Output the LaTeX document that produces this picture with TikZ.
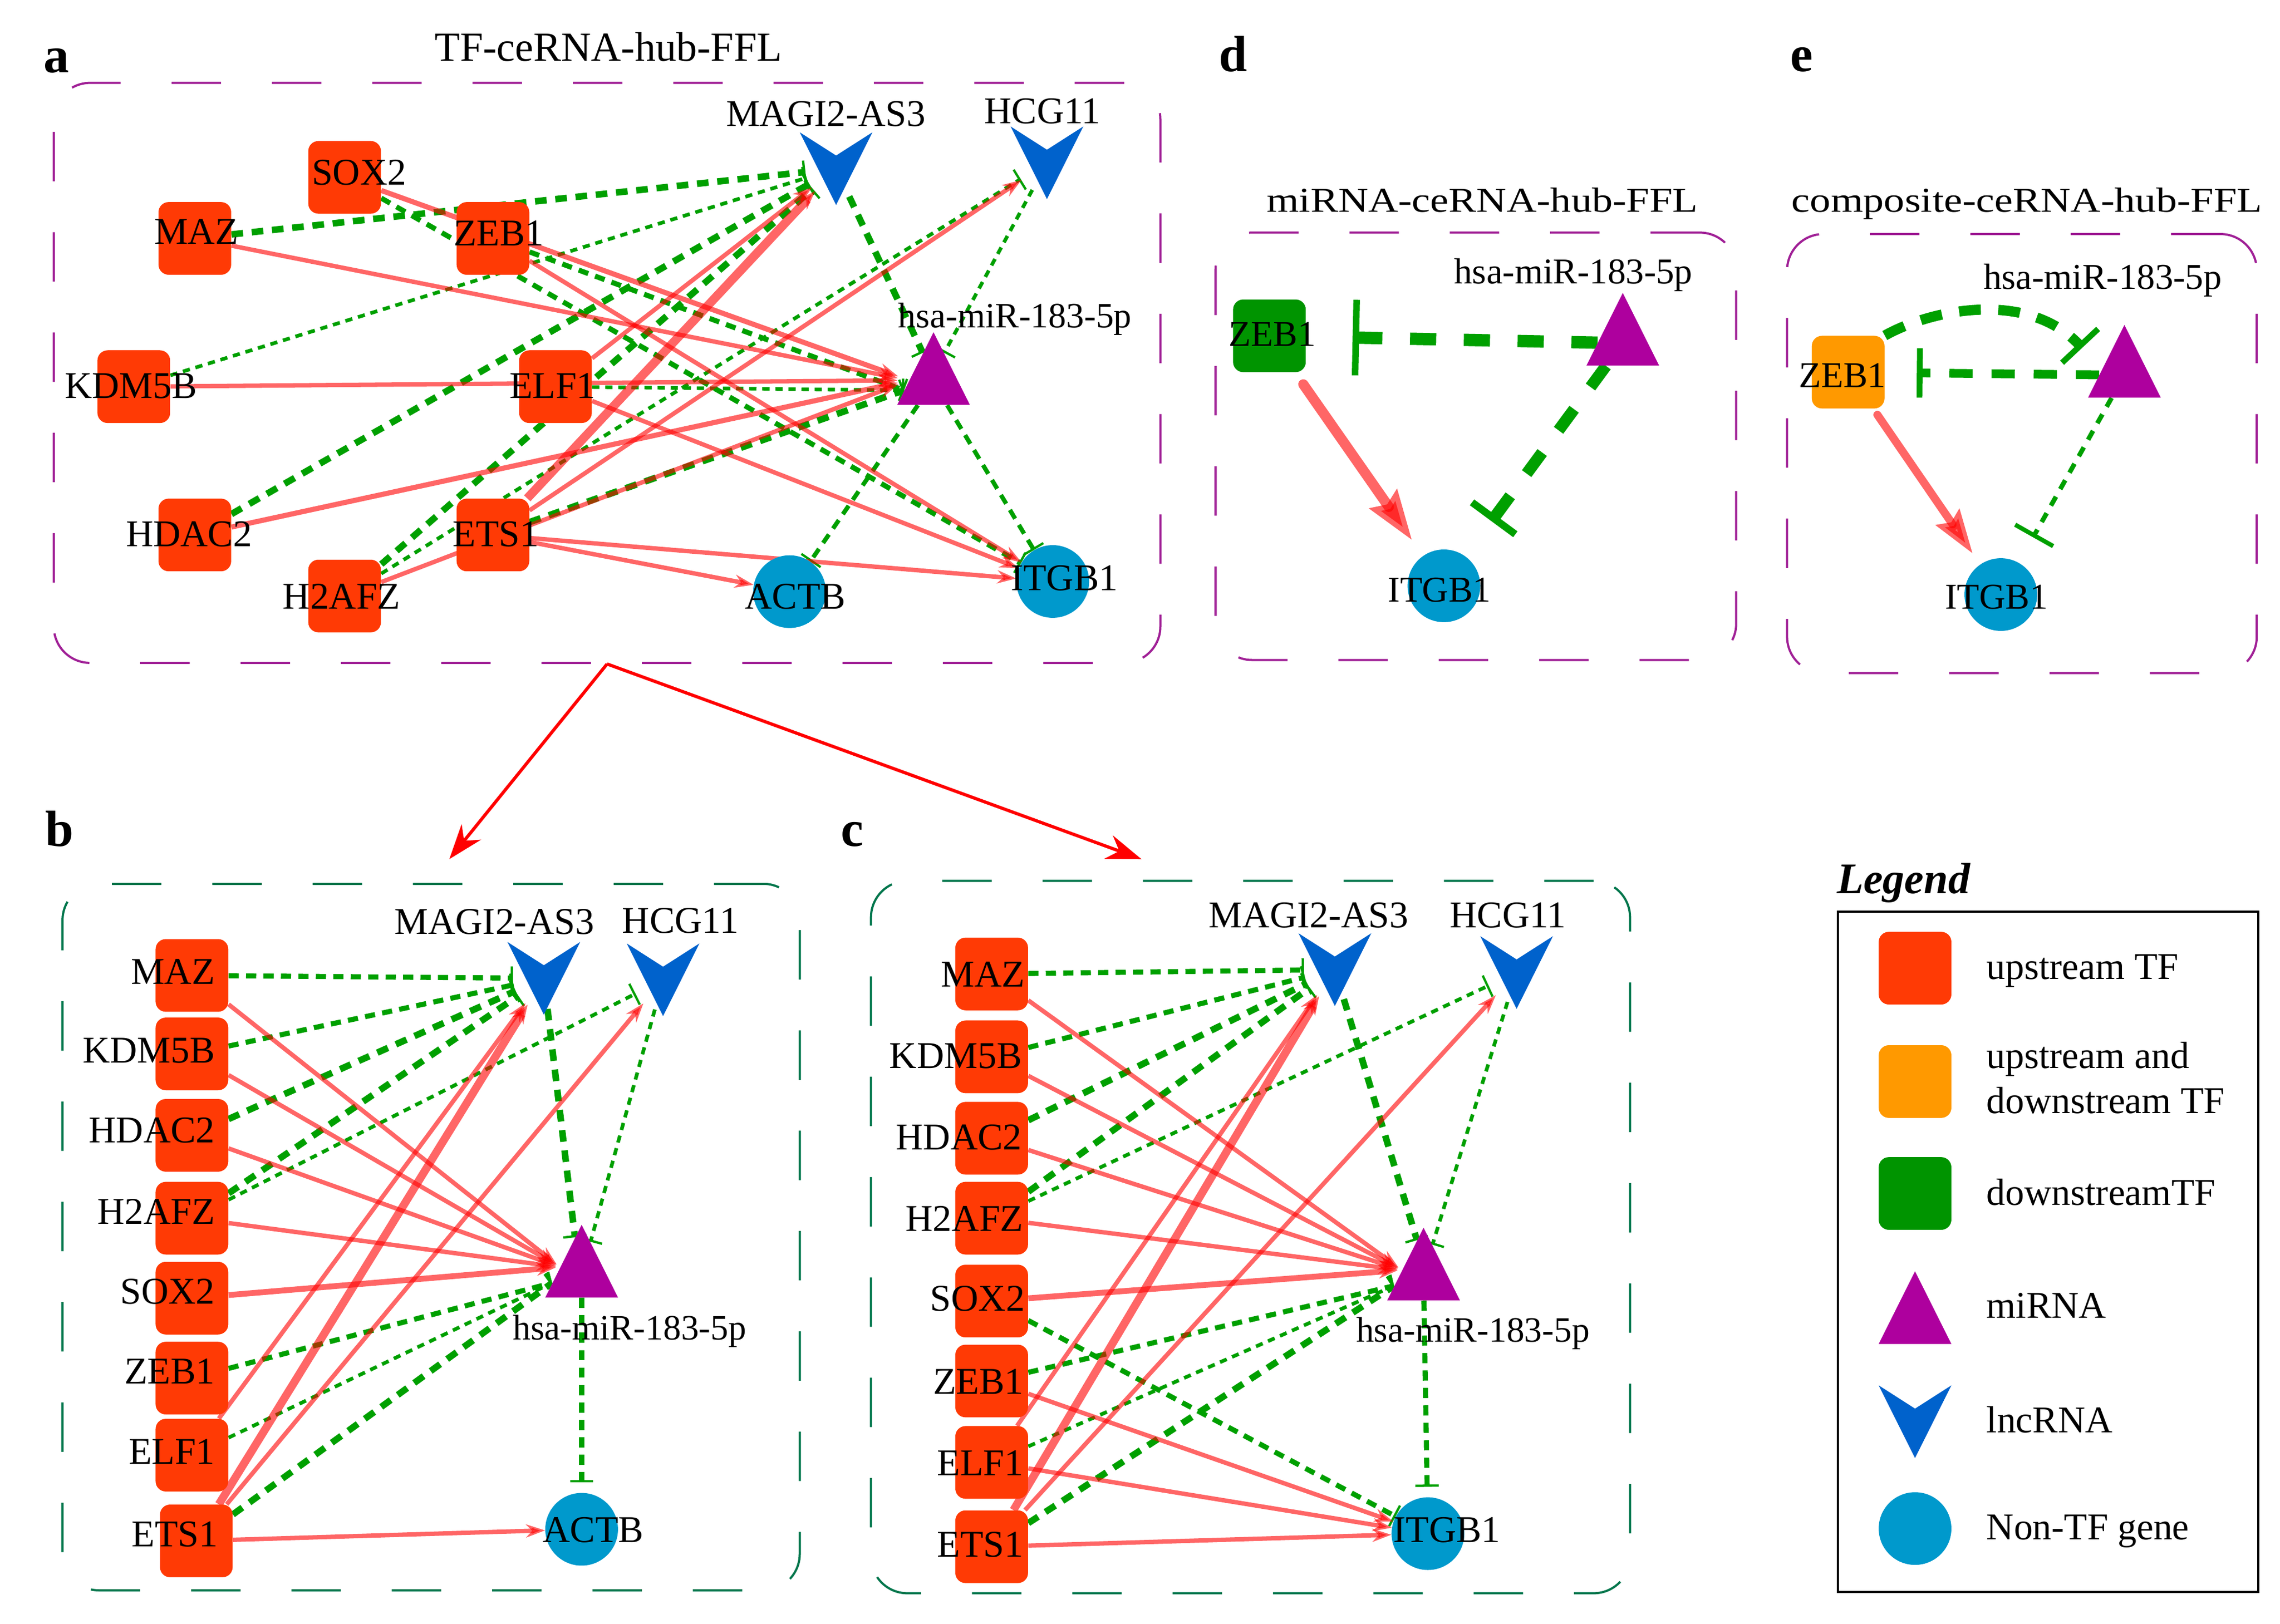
\documentclass[tikz,border=0pt]{standalone}
\usepackage{fontspec}
\usepackage{graphicx}
\setmainfont{Liberation Serif}
\usetikzlibrary{arrows.meta,shapes.geometric,calc}
\pgfdeclarelayer{edges}
\pgfsetlayers{edges,main}
\definecolor{tfred}{RGB}{255,58,5}
\definecolor{tforange}{RGB}{255,153,0}
\definecolor{tfgreen}{RGB}{0,148,0}
\definecolor{mirpurple}{RGB}{174,0,158}
\definecolor{lncblue}{RGB}{0,98,204}
\definecolor{geneblue}{RGB}{0,153,204}
\definecolor{edgegreen}{RGB}{0,160,0}
\definecolor{boxpurple}{RGB}{160,32,150}
\definecolor{boxgreen}{RGB}{0,118,76}
\newcommand\mylabfont{\fontsize{26}{30}\selectfont}
\newcommand\mymirfont{\fontsize{24.5}{30}\selectfont}
\newcommand\mydfont{\fontsize{25}{30}\selectfont}
\newcommand\mytitlefont{\fontsize{28.5}{32}\selectfont}
\newcommand\mydtitlefont{\fontsize{24}{28}\selectfont}
\newcommand\mypanelfont{\fontsize{35}{40}\selectfont\bfseries}
\newcommand\mylegfont{\fontsize{30}{34}\selectfont\bfseries\itshape}
\newcommand\lncV[1]{\fill[lncblue] ($(#1)+(-25,-25)$) -- ($(#1)+(0,-9)$) -- ($(#1)+(25,-25)$) -- ($(#1)+(0,25)$) -- cycle;}
\tikzset{
  tf/.style={rectangle, rounded corners=7pt, minimum width=50pt, minimum height=50pt, inner sep=0pt, fill=tfred},
  mir/.style={isosceles triangle, shape border rotate=90, isosceles triangle stretches, minimum width=50pt, minimum height=50pt, inner sep=0pt, fill=mirpurple, anchor=apex},
  lnc/.style={circle, minimum size=42pt, inner sep=0pt},
  gene/.style={circle, minimum size=50pt, inner sep=0pt, fill=geneblue},
  lab/.style={font=\mylabfont, inner sep=0pt, anchor=base},
  labE/.style={lab, anchor=base east},
  mlab/.style={font=\mymirfont, inner sep=0pt, anchor=base},
  dlab/.style={font=\mydfont, inner sep=0pt, anchor=base},
  leglab/.style={font=\mylabfont, inner sep=0pt, anchor=base west},
  panel/.style={font=\mypanelfont, inner sep=0pt, anchor=base west},
  ptitle/.style={font=\mytitlefont, inner sep=0pt, anchor=base},
  dtitle/.style={font=\mydtitlefont, inner sep=0pt, anchor=base},
  pbox/.style={draw=boxpurple, line width=1.5pt, dash pattern=on 34pt off 35pt, rounded corners=25pt, inner sep=0pt},
  gbox/.style={pbox, draw=boxgreen},
  redE/.style={draw=red, opacity=0.6, line width=3pt, -{Stealth[length=13pt,width=9pt]}},
  gE/.style={draw=edgegreen, -{Bar[width=16pt,line width=1.6pt]}},
  gthick/.style={gE, line width=4.5pt, dash pattern=on 8pt off 6pt},
  gmed/.style={gE, line width=3.5pt, dash pattern=on 7pt off 5pt},
  gthin/.style={gE, line width=2.5pt, dash pattern=on 5pt off 4pt},
  interarrow/.style={draw=red, line width=2.2pt, -{Stealth[length=24pt,width=17pt]}},
}
\begin{document}
\begin{tikzpicture}[x=1pt,y=-1pt]
\useasboundingbox (0,0) rectangle (1568,1116.8);

% ---------- panel boxes ----------
\node[pbox, minimum width=761pt, minimum height=399pt] (aBox) at (417.5,256.5) {};
\node[gbox, minimum width=507pt, minimum height=486pt] (bBox) at (296.5,851) {};
\node[gbox, minimum width=522pt, minimum height=490pt] (cBox) at (860,851) {};
\node[pbox, minimum width=358pt, minimum height=294pt] (dBox) at (1015,307) {};
\node[pbox, minimum width=323pt, minimum height=302pt] (eBox) at (1390.5,312) {};
\node[draw=black, line width=1.5pt, minimum width=289pt, minimum height=468pt, inner sep=0pt] (legBox) at (1408.5,861) {};

% ---------- panel letters and titles ----------
\node[panel] (pa) at (30,50) {a};
\node[panel] (pb) at (31,582) {b};
\node[panel] (pc) at (578,582) {c};
\node[panel] (pd) at (838,49) {d};
\node[panel] (pe) at (1231,49) {e};
\node[ptitle] (aTitle) at (418.5,42) {TF-ceRNA-hub-FFL};
\node[dtitle] (dTitle) at (1019.5,146) {\scalebox{1.19}[1]{miRNA-ceRNA-hub-FFL}};
\node[dtitle] (eTitle) at (1394,146) {\scalebox{1.19}[1]{composite-ceRNA-hub-FFL}};

% ---------- panel a nodes ----------
\node[tf] (aSOX2) at (237,122) {};
\node[tf] (aMAZ) at (134,164) {};
\node[tf] (aZEB1) at (339,164) {};
\node[tf] (aKDM5B) at (92,266) {};
\node[tf] (aELF1) at (382,266) {};
\node[tf] (aHDAC2) at (134,368) {};
\node[tf] (aETS1) at (339,368) {};
\node[tf] (aH2AFZ) at (237,410) {};
\node[lnc] (aMAGI) at (575,116) {}; \lncV{aMAGI}
\node[lnc] (aHCG) at (720,112) {}; \lncV{aHCG}
\node[mir] (aMIR) at (642,228) {};
\node[gene] (aACTB) at (543,407) {};
\node[gene] (aITGB) at (724,400) {};
\node[lab] (aSOX2t) at (247,127) {SOX2};
\node[lab] (aMAZt) at (135,168) {MAZ};
\node[lab] (aZEB1t) at (343,169) {ZEB1};
\node[lab] (aKDM5Bt) at (90,274) {KDM5B};
\node[lab] (aELF1t) at (380,274) {ELF1};
\node[lab] (aHDAC2t) at (130,376) {HDAC2};
\node[lab] (aETS1t) at (341,376) {ETS1};
\node[lab] (aH2AFZt) at (235,419) {H2AFZ};
\node[lab] (aMAGIt) at (568,87) {MAGI2-AS3};
\node[lab] (aHCGt) at (717,85) {HCG11};
\node[mlab] (aMIRt) at (698,225.5) {hsa-miR-183-5p};
\node[lab] (aACTBt) at (547,419) {ACTB};
\node[lab] (aITGBt) at (732,406) {ITGB1};

% ---------- panel b nodes ----------
\node[tf] (bMAZ) at (132,671) {};
\node[tf] (bKDM5B) at (132,725) {};
\node[tf] (bHDAC2) at (132,781) {};
\node[tf] (bH2AFZ) at (132,838) {};
\node[tf] (bSOX2) at (132,893) {};
\node[tf] (bZEB1) at (132,948) {};
\node[tf] (bELF1) at (132,1001) {};
\node[tf] (bETS1) at (135,1060) {};
\node[lnc] (bMAGI) at (374,673) {}; \lncV{bMAGI}
\node[lnc] (bHCG) at (456,674) {}; \lncV{bHCG}
\node[mir] (bMIR) at (400,842) {};
\node[gene] (bACTB) at (400,1052) {};
\node[labE] (bMAZt) at (148,677) {MAZ};
\node[labE] (bKDM5Bt) at (148,731) {KDM5B};
\node[labE] (bHDAC2t) at (148,786) {HDAC2};
\node[labE] (bH2AFZt) at (148,842) {H2AFZ};
\node[labE] (bSOX2t) at (148,897) {SOX2};
\node[labE] (bZEB1t) at (148,952) {ZEB1};
\node[labE] (bELF1t) at (148,1007) {ELF1};
\node[labE] (bETS1t) at (150,1064) {ETS1};
\node[lab] (bMAGIt) at (340,642.5) {MAGI2-AS3};
\node[lab] (bHCGt) at (468,642) {HCG11};
\node[mlab] (bMIRt) at (433,921.5) {hsa-miR-183-5p};
\node[lab] (bACTBt) at (408,1061) {ACTB};

% ---------- panel c nodes ----------
\node[tf] (cMAZ) at (682,670) {};
\node[tf] (cKDM5B) at (682,727) {};
\node[tf] (cHDAC2) at (682,783) {};
\node[tf] (cH2AFZ) at (682,838) {};
\node[tf] (cSOX2) at (682,895) {};
\node[tf] (cZEB1) at (682,950) {};
\node[tf] (cELF1) at (682,1006) {};
\node[tf] (cETS1) at (682,1064) {};
\node[lnc] (cMAGI) at (918,667) {}; \lncV{cMAGI}
\node[lnc] (cHCG) at (1043,669) {}; \lncV{cHCG}
\node[mir] (cMIR) at (979,844) {};
\node[gene] (cITGB) at (982,1055) {};
\node[labE] (cMAZt) at (705,679) {MAZ};
\node[labE] (cKDM5Bt) at (703,735) {KDM5B};
\node[labE] (cHDAC2t) at (703,791) {HDAC2};
\node[labE] (cH2AFZt) at (704,847) {H2AFZ};
\node[labE] (cSOX2t) at (705,902) {SOX2};
\node[labE] (cZEB1t) at (704,959) {ZEB1};
\node[labE] (cELF1t) at (704,1015) {ELF1};
\node[labE] (cETS1t) at (704,1071) {ETS1};
\node[lab] (cMAGIt) at (900,638) {MAGI2-AS3};
\node[lab] (cHCGt) at (1037,638) {HCG11};
\node[mlab] (cMIRt) at (1013,923) {hsa-miR-183-5p};
\node[lab] (cITGBt) at (995,1061) {ITGB1};

% ---------- panel d nodes ----------
\node[tf, fill=tfgreen] (dZEB1) at (873,231) {};
\node[mir] (dMIR) at (1116,201) {};
\node[gene] (dITGB) at (993,403) {};
\node[dlab] (dZEB1t) at (875,238) {ZEB1};
\node[dlab] (dMIRt) at (1082,195) {hsa-miR-183-5p};
\node[dlab] (dITGBt) at (990,414) {ITGB1};

% ---------- panel e nodes ----------
\node[tf, fill=tforange] (eZEB1) at (1271,256) {};
\node[mir] (eMIR) at (1461,223) {};
\node[gene] (eITGB) at (1376,409) {};
\node[dlab] (eZEB1t) at (1267,266.5) {ZEB1};
\node[dlab] (eMIRt) at (1446,199) {hsa-miR-183-5p};
\node[dlab] (eITGBt) at (1373,419) {ITGB1};

% ---------- legend ----------
\node[font=\mylegfont, inner sep=0pt, anchor=base west] (legT) at (1263,614.5) {Legend};
\node[tf] (lgTF) at (1317,666) {};
\node[tf, fill=tforange] (lgUD) at (1317,744) {};
\node[tf, fill=tfgreen] (lgDN) at (1317,821) {};
\node[mir] (lgMIR) at (1317,874) {};
\node[lnc] (lgLNC) at (1317,978) {}; \lncV{lgLNC}
\node[gene] (lgGENE) at (1317,1051.5) {};
\node[leglab] (lgTFt) at (1366,673.5) {upstream TF};
\node[leglab] (lgUDt1) at (1366,735) {upstream and};
\node[leglab] (lgUDt2) at (1366,766) {downstream TF};
\node[leglab] (lgDNt) at (1366,829) {downstreamTF};
\node[leglab] (lgMIRt) at (1366,906.5) {miRNA};
\node[leglab] (lgLNCt) at (1366,985.5) {lncRNA};
\node[leglab] (lgGENEt) at (1366,1059) {Non-TF gene};

\coordinate (bTip) at (309,591);
\coordinate (cTip) at (785,591);

% ---------- edges ----------
\begin{pgfonlayer}{edges}
% inter-panel arrows
\draw[interarrow] (aBox.south) -- (bTip);
\draw[interarrow] (aBox.south) -- (cTip);

% panel a green
\draw[gthick] (aMAZ) -- (aMAGI);
\draw[gthin] (aKDM5B) -- (aMAGI);
\draw[gthick] (aHDAC2) -- (aMAGI);
\draw[gthick] (aH2AFZ) -- (aMAGI);
\draw[gthin] (aH2AFZ) -- (aHCG);
\draw[gmed] (aSOX2) -- (aITGB);
\draw[gmed] (aZEB1) -- (aMIR.195);
\draw[gthin] (aELF1) -- (aMIR.195);
\draw[gthick] (aETS1) -- (aMIR.195);
\draw[gthick] (aMAGI) -- (aMIR.110);
\draw[gthin] (aHCG) -- (aMIR.70);
\draw[gmed, line width=3pt] (aMIR) -- (aACTB);
\draw[gmed, line width=3pt] (aMIR) -- (aITGB);
% panel a red
\draw[redE, line width=3.5pt, shorten >=8pt] (aSOX2) -- (aMIR.175);
\draw[redE, shorten >=8pt] (aMAZ) -- (aMIR.175);
\draw[redE, shorten >=8pt] (aKDM5B) -- (aMIR.175);
\draw[redE, line width=3.5pt, shorten >=8pt] (aHDAC2) -- (aMIR.175);
\draw[redE, shorten >=8pt] (aH2AFZ) -- (aMIR.175);
\draw[redE] (aELF1) -- (aMAGI);
\draw[redE, line width=6pt] (aETS1) -- (aMAGI);
\draw[redE] (aETS1) -- (aHCG);
\draw[redE] (aETS1) -- (aACTB);
\draw[redE] (aETS1) -- (aITGB);
\draw[redE] (aZEB1) -- (aITGB);
\draw[redE] (aELF1) -- (aITGB);

% panel b green
\draw[gmed] (bMAZ) -- (bMAGI);
\draw[gmed] (bKDM5B) -- (bMAGI);
\draw[gthick] (bHDAC2) -- (bMAGI);
\draw[gthick] (bH2AFZ) -- (bMAGI);
\draw[gthin] (bH2AFZ) -- (bHCG);
\draw[gmed] (bZEB1) -- (bMIR.195);
\draw[gthin] (bELF1) -- (bMIR.195);
\draw[gthick] (bETS1) -- (bMIR.195);
\draw[gthick] (bMAGI) -- (bMIR.100);
\draw[gthin] (bHCG) -- (bMIR.75);
\draw[gmed, shorten >=7pt] (bMIR) -- (bACTB);
% panel b red
\draw[redE, shorten >=3pt] (bMAZ) -- (bMIR.160);
\draw[redE, shorten >=3pt] (bKDM5B) -- (bMIR.160);
\draw[redE, shorten >=3pt] (bHDAC2) -- (bMIR.160);
\draw[redE, shorten >=3pt] (bH2AFZ) -- (bMIR.160);
\draw[redE, line width=4pt, shorten >=3pt] (bSOX2) -- (bMIR.160);
\draw[redE] (bELF1) -- (bMAGI);
\draw[redE, line width=5.5pt] (bETS1) -- (bMAGI);
\draw[redE] (bETS1) -- (bHCG);
\draw[redE] (bETS1) -- (bACTB);

% panel c green
\draw[gmed] (cMAZ) -- (cMAGI);
\draw[gmed] (cKDM5B) -- (cMAGI);
\draw[gthick] (cHDAC2) -- (cMAGI);
\draw[gthick] (cH2AFZ) -- (cMAGI);
\draw[gthin] (cH2AFZ) -- (cHCG);
\draw[gmed] (cSOX2) -- (cITGB);
\draw[gmed] (cZEB1) -- (cMIR.195);
\draw[gthin] (cELF1) -- (cMIR.195);
\draw[gthick] (cETS1) -- (cMIR.195);
\draw[gthick] (cMAGI) -- (cMIR.100);
\draw[gthin] (cHCG) -- (cMIR.75);
\draw[gmed, shorten >=7pt] (cMIR) -- (cITGB);
% panel c red
\draw[redE, shorten >=3pt] (cMAZ) -- (cMIR.160);
\draw[redE, shorten >=3pt] (cKDM5B) -- (cMIR.160);
\draw[redE, shorten >=3pt] (cHDAC2) -- (cMIR.160);
\draw[redE, shorten >=3pt] (cH2AFZ) -- (cMIR.160);
\draw[redE, line width=4pt, shorten >=3pt] (cSOX2) -- (cMIR.160);
\draw[redE] (cELF1) -- (cMAGI);
\draw[redE, line width=5.5pt] (cETS1) -- (cMAGI);
\draw[redE] (cETS1) -- (cHCG);
\draw[redE] (cZEB1) -- (cITGB);
\draw[redE] (cELF1) -- (cITGB);
\draw[redE] (cETS1) -- (cITGB);

% panel d
\draw[draw=edgegreen, line width=8.5pt, dash pattern=on 18pt off 19pt, -{Bar[width=52pt,line width=4.5pt]}, shorten >=32pt] (dMIR) -- (dZEB1);
\draw[draw=edgegreen, line width=8pt, dash pattern=on 18pt off 19pt, -{Bar[width=37pt,line width=5pt]}, shorten >=30pt] (dMIR) -- (dITGB);
\draw[draw=red, opacity=0.6, line width=7pt, line cap=round, -{Stealth[length=34pt,width=22pt,inset=4pt]}, shorten <=10pt, shorten >=13pt] (dZEB1) -- (dITGB);

% panel e
\draw[draw=edgegreen, line width=7pt, dash pattern=on 15pt off 12pt, -{Bar[width=34pt,line width=4pt]}, shorten >=20pt] (eZEB1.north east) .. controls (1330,212) and (1395,200) .. (eMIR.165);
\draw[draw=edgegreen, line width=6pt, dash pattern=on 16pt off 13pt, -{Bar[width=34pt,line width=4pt]}, shorten >=22pt] (eMIR) -- (eZEB1);
\draw[draw=edgegreen, line width=3.2pt, dash pattern=on 7pt off 6pt, -{Bar[width=30pt,line width=3pt]}, shorten >=20pt] (eMIR) -- (eITGB);
\draw[draw=red, opacity=0.6, line width=5.5pt, line cap=round, -{Stealth[length=30pt,width=19pt,inset=4pt]}, shorten <=5pt, shorten >=9pt] (eZEB1) -- (eITGB);
\end{pgfonlayer}
\end{tikzpicture}
\end{document}
